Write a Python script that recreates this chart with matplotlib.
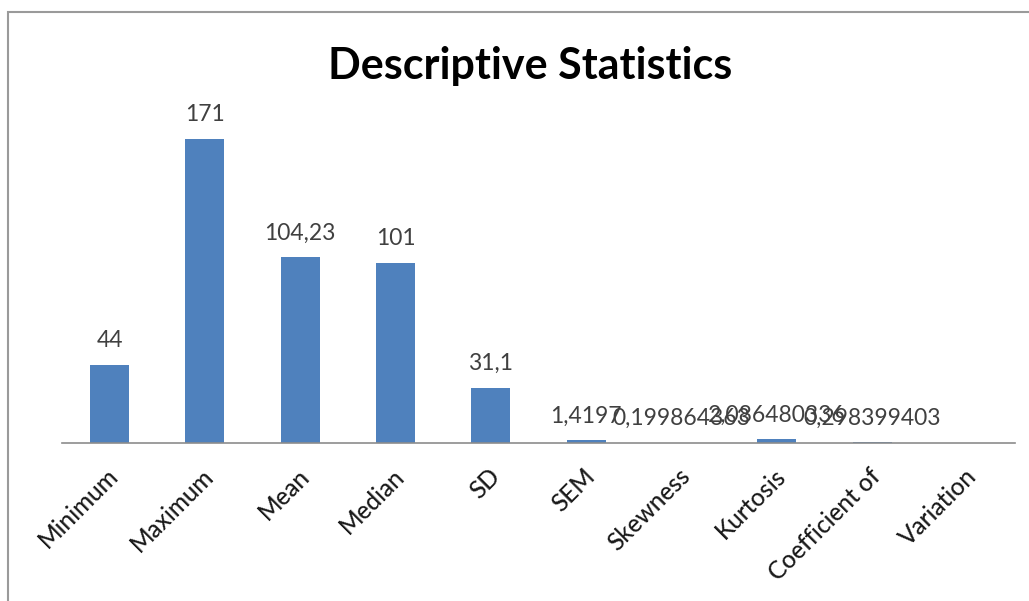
import matplotlib
matplotlib.use("Agg")
import matplotlib.pyplot as plt
from matplotlib.patches import Rectangle
from matplotlib.transforms import ScaledTranslation

categories = ["Minimum", "Maximum", "Mean", "Median", "SD", "SEM",
              "Skewness", "Kurtosis", "Coefficient of", "Variation"]
values = [44, 171, 104.23, 101, 31.1, 1.4197,
          0.199864363, 2.086480336, 0.298399403, None]
value_labels = ["44", "171", "104,23", "101", "31,1", "1,4197",
                "0,199864363", "2,086480336", "0,298399403", ""]

plt.rcParams["font.family"] = ["Lato", "DejaVu Sans"]

W, H = 1029, 601
fig = plt.figure(figsize=(W / 100, H / 100), dpi=100)

# chart frame
fig.patches.append(Rectangle((8 / W, -0.1), 1.2, 1 - 12 / H + 0.1,
                             transform=fig.transFigure, fill=False,
                             edgecolor="#9a9a9a", linewidth=1.5))

ax = fig.add_axes([62 / W, (H - 443) / H, (1015 - 62) / W, (443 - 87) / H])
x = list(range(len(categories)))
heights = [v if v is not None else 0 for v in values]
ax.bar(x, heights, width=0.41, color="#4F81BD")
ax.set_xlim(-0.5, len(categories) - 0.5)
ax.set_ylim(0, 200)

for xi, h, lab in zip(x, heights, value_labels):
    if lab:
        ax.annotate(lab, (xi, h), xytext=(0, 10), textcoords="offset points",
                    ha="center", va="bottom", fontsize=16.5, color="#404040")

for s in ["top", "right", "left"]:
    ax.spines[s].set_visible(False)
ax.spines["bottom"].set_color("#8c8c8c")
ax.spines["bottom"].set_linewidth(1.2)
ax.set_yticks([])
ax.set_xticks(x)
ax.set_xticklabels(categories, rotation=45, ha="right", va="top",
                   rotation_mode="anchor", fontsize=17.5, color="#1a1a1a",
                   fontweight="medium")
ax.tick_params(axis="x", length=0, pad=8)
shift = ScaledTranslation(-3 / 100, -10 / 100, fig.dpi_scale_trans)
for lbl in ax.get_xticklabels():
    lbl.set_transform(lbl.get_transform() + shift)

fig.text(530 / W, 1 - 66 / H, "Descriptive Statistics", ha="center",
         va="center", fontsize=31, fontweight="bold", color="black")

fig.savefig("out.png", dpi=100)
